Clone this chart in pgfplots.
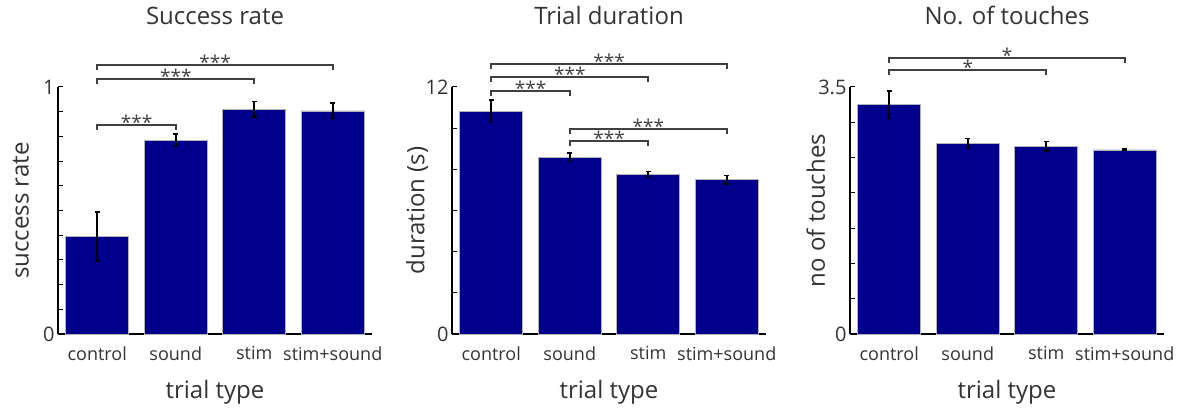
\documentclass[border=0pt]{standalone}
\usepackage{fontspec}
\setmainfont{Open Sans}
\usepackage{pgfplots}
\pgfplotsset{compat=1.18}
\definecolor{barblue}{HTML}{00008C}
\definecolor{txt}{HTML}{333333}
\definecolor{brkgray}{HTML}{404040}

\pgfplotsset{
  panel/.style={
    scale only axis, width=314pt, height=247pt,
    xmin=0.5, xmax=4.5, ymin=0, clip=false,
    axis x line=bottom, axis y line=left,
    axis line style={-, line width=1.4pt, black},
    xtick={1,2,3,4}, xticklabels={control,sound,stim,stim+sound},
    x tick style={draw=none},
    y tick style={line width=1pt, black},
    tick align=inside, major tick length=5pt, minor tick length=5pt,
    /pgf/number format/assume math mode=true,
    ticklabel style={font=\fontsize{18}{21}\selectfont, text=txt},
    yticklabel style={font=\fontsize{20}{23}\selectfont},
    xticklabel style={yshift=-4pt},
    label style={font=\fontsize{24}{28}\selectfont, text=txt},
    title style={font=\fontsize{24}{28}\selectfont, text=txt,
      at={(axis description cs:0.5,1.265)}, anchor=center},
    xlabel style={at={(axis description cs:0.5,-0.235)}, anchor=center},
    ybar, bar width=63pt,
    xlabel={trial type},
  },
  bars/.style={fill=barblue, draw=gray!60, line width=0.6pt,
    error bars/.cd, y dir=both, y explicit,
    error bar style={line width=1.6pt, black},
    error mark options={rotate=90, mark size=2.5pt, line width=1.6pt, black}},
}
\tikzset{brk/.style={draw=brkgray, line width=1.8pt},
  stars/.style={font=\fontsize{19}{21}\selectfont, text=brkgray, anchor=base, inner sep=0pt, yshift=-4.5pt}}
% significance bracket: from bar #1 to bar #2 at height #3, label #4
\newcommand{\brk}[4]{%
  \draw[brk] ([yshift=-5pt]axis cs:#1,#3) -- (axis cs:#1,#3) -- (axis cs:#2,#3) -- ([yshift=-5pt]axis cs:#2,#3);
  \node[stars] at (axis cs:{(#1+#2)/2},#3) {#4};}

\begin{document}
\begin{tikzpicture}
\useasboundingbox (0,0) rectangle (1187pt,409pt);

% success rate
\begin{axis}[panel, at={(58pt,75pt)}, anchor=south west,
    ymax=1, ytick={0,1}, minor ytick={0.1,0.2,...,0.9},
    title={Success rate}, ylabel={success rate},
    ylabel style={at={(axis description cs:-0.118,0.5)}, anchor=center}]
  \addplot[bars] coordinates {
    (1,0.395) +- (0,0.10)
    (2,0.785) +- (0,0.025)
    (3,0.910) +- (0,0.031)
    (4,0.903) +- (0,0.031)
  };
  \brk{1}{2}{0.846}{***}
  \brk{1}{3}{1.032}{***}
  \brk{1}{4}{1.090}{***}
\end{axis}

% trial duration
\begin{axis}[panel, at={(452pt,75pt)}, anchor=south west,
    ymax=12, ytick={0,12}, minor ytick={2,4,...,10},
    title={Trial duration}, ylabel={duration (s)},
    ylabel style={at={(axis description cs:-0.111,0.5)}, anchor=center}]
  \addplot[bars] coordinates {
    (1,10.83) +- (0,0.55)
    (2,8.58) +- (0,0.20)
    (3,7.75) +- (0,0.15)
    (4,7.50) +- (0,0.20)
  };
  \brk{1}{2}{11.82}{***}
  \brk{1}{3}{12.47}{***}
  \brk{1}{4}{13.10}{***}
  \brk{2}{3}{9.38}{***}
  \brk{2}{4}{9.94}{***}
\end{axis}

% number of touches
\begin{axis}[panel, at={(850pt,75pt)}, anchor=south west,
    ymax=3.5, ytick={0,3.5}, minor ytick={0.5,1,...,3},
    title={No. of touches}, ylabel={no of touches},
    ylabel style={at={(axis description cs:-0.109,0.5)}, anchor=center}]
  \addplot[bars] coordinates {
    (1,3.25) +- (0,0.195)
    (2,2.70) +- (0,0.07)
    (3,2.66) +- (0,0.07)
    (4,2.61) +- (0,0.01)
  };
  \brk{1}{3}{3.736}{*}
  \brk{1}{4}{3.916}{*}
\end{axis}
\end{tikzpicture}
\end{document}
